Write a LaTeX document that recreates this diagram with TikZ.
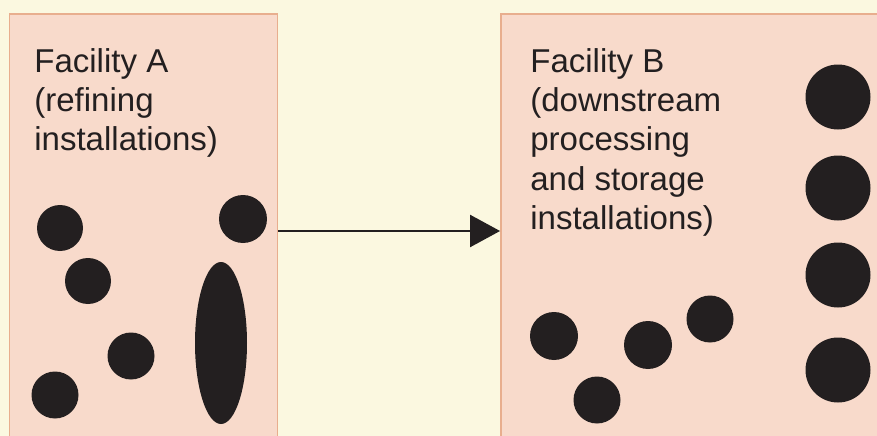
\documentclass[tikz,border=0pt]{standalone}
\usepackage{fontspec}
\setmainfont{Liberation Sans}
\usepackage{xcolor}
\usepackage{tikz}
\usetikzlibrary{arrows.meta}

\definecolor{bgcream}{HTML}{FBF8E0}
\definecolor{boxpink}{HTML}{F8DACB}
\definecolor{boxedge}{HTML}{E8AE8E}
\definecolor{dotblack}{HTML}{231F20}

\tikzset{
  facbox/.style={draw=boxedge, fill=boxpink, line width=1.1pt, inner sep=0pt},
  factext/.style={anchor=north west, inner sep=0pt, align=left,
    font=\fontsize{18.8pt}{22.4pt}\selectfont, text=dotblack},
  dot/.style={fill=dotblack}
}

\begin{document}
\begin{tikzpicture}[x=0.02cm, y=-0.02cm]
\useasboundingbox (0,0) rectangle (877,436);
\clip (0,0) rectangle (877,436);
\fill[bgcream] (0,0) rectangle (877,436);

\node[facbox, minimum width=5.36cm, minimum height=8.68cm] (facA) at (143.5,231) {};
\node[facbox, minimum width=7.98cm, minimum height=8.68cm] (facB) at (700.5,231) {};

\node[factext] (textA) at (34,48) {Facility A\\(refining\\installations)};
\node[factext] (textB) at (530,48) {Facility B\\(downstream\\processing\\and storage\\installations)};

\draw[line width=1.3pt, dotblack, -{Triangle[length=0.6cm, width=0.64cm]}] (facA.east) -- (facB.west);

% facility A
\fill[dot] (60,228) circle (23);
\fill[dot] (88,281) circle (23);
\fill[dot] (131,356) circle (23.5);
\fill[dot] (55,395) circle (23.5);
\fill[dot] (243,219) circle (24);
\fill[dot] (221,343) ellipse (26 and 81);

% facility B
\fill[dot] (838,97) circle (32.5);
\fill[dot] (838,188) circle (32.5);
\fill[dot] (838,275) circle (32.5);
\fill[dot] (838,370) circle (32.5);
\fill[dot] (554,336) circle (24);
\fill[dot] (648,345) circle (24);
\fill[dot] (710,319) circle (23.5);
\fill[dot] (597,400) circle (23.5);

\end{tikzpicture}
\end{document}
